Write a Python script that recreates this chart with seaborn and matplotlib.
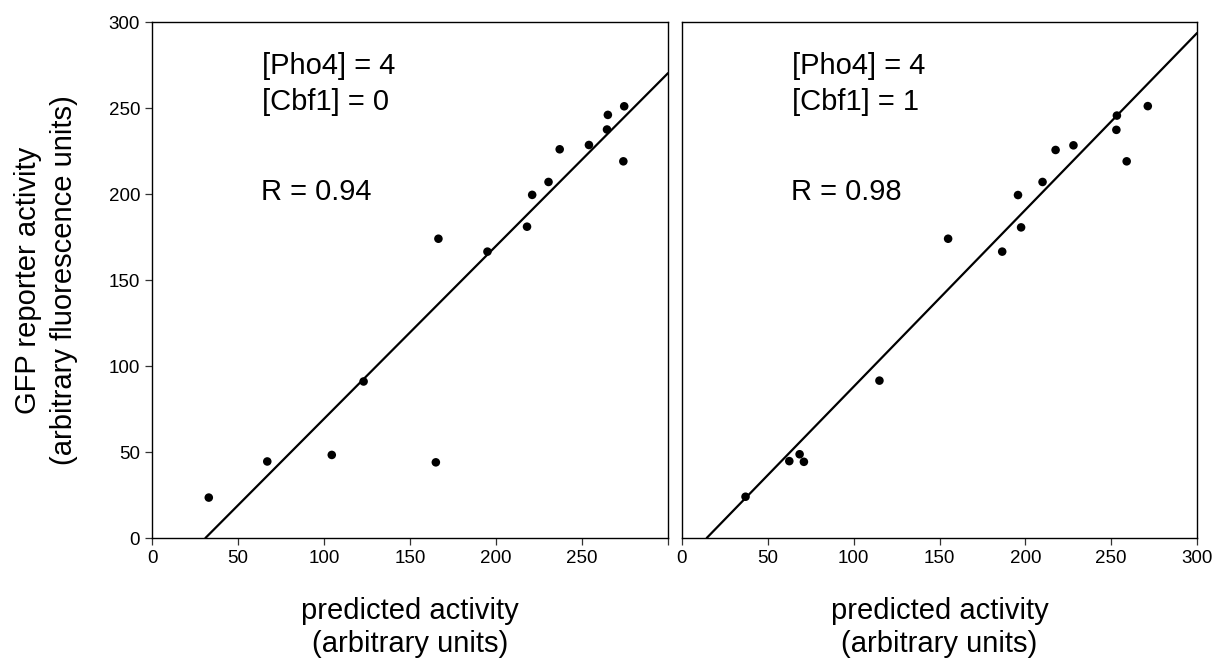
import numpy as np
import pandas as pd
import seaborn as sns
import matplotlib.pyplot as plt

# Fontsizes
LBF = 21   # axis labels / annotations
TS = 13.5  # ticks

# Left panel: [Pho4] = 4, [Cbf1] = 0
pred_cbf0 = [33, 67, 104.5, 123, 165, 166.5, 195, 218, 221, 230.5, 237, 254, 264.5, 265, 274.5, 274]
gfp_cbf0 = [23.5, 44.5, 48.3, 91, 44, 174, 166.5, 181, 199.5, 207, 226, 228.5, 237.5, 246, 251, 219]
fit_cbf0 = (1.005, -31.2)   # slope, intercept
r_cbf0 = 0.94

# Right panel: [Pho4] = 4, [Cbf1] = 1
pred_cbf1 = [37, 62.5, 68.5, 71, 115, 155, 186.5, 197.5, 195.7, 210, 217.6, 228, 253, 253.3, 271.3, 259]
gfp_cbf1 = [24, 44.7, 48.7, 44.3, 91.5, 174, 166.5, 180.6, 199.4, 207, 225.6, 228.3, 237.3, 245.6, 251.1, 219]
fit_cbf1 = (1.028, -14.8)
r_cbf1 = 0.98

xticks = [0, 50, 100, 150, 200, 250, 300]
yticks = [0, 50, 100, 150, 200, 250, 300]

sns.set_style('ticks')
plt.rcParams['font.family'] = ['Liberation Sans', 'DejaVu Sans']
plt.rcParams['text.color'] = 'black'
plt.rcParams['axes.labelcolor'] = 'black'
plt.rcParams['xtick.color'] = 'black'
plt.rcParams['ytick.color'] = 'black'

fig = plt.figure(figsize=(12.22, 6.71), dpi=100)
ax1 = fig.add_axes([0.1244, 0.1982, 0.4223, 0.769])
ax2 = fig.add_axes([0.5581, 0.1982, 0.4215, 0.769])

panels = [
    (ax1, pred_cbf0, gfp_cbf0, fit_cbf0, '[Pho4] = 4', '[Cbf1] = 0', r_cbf0),
    (ax2, pred_cbf1, gfp_cbf1, fit_cbf1, '[Pho4] = 4', '[Cbf1] = 1', r_cbf1),
]

for ax, xs, ys, fit, t1, t2, r in panels:
    df = pd.DataFrame({'pred': xs, 'gfp': ys})
    sns.scatterplot(data=df, x='pred', y='gfp', ax=ax, color='black', s=38,
                    edgecolor='none', zorder=3)
    slope, icpt = fit
    x0 = -icpt / slope
    line = pd.DataFrame({'x': [x0, 300]})
    line['y'] = slope * line['x'] + icpt
    sns.lineplot(data=line, x='x', y='y', ax=ax, color='black', lw=1.6)

    ax.set_xlim(0, 300)
    ax.set_ylim(0, 300)
    ax.set_xticks(xticks)
    ax.set_yticks(yticks)
    for s in ax.spines.values():
        s.set_visible(True)
        s.set_color('black')
        s.set_linewidth(1.0)
    ax.tick_params(which='both', labelsize=TS, length=5, width=0.9,
                   color='#333333', labelcolor='black')

    ax.text(64, 270, t1, fontsize=LBF, color='black')
    ax.text(64, 249, t2, fontsize=LBF, color='black')
    ax.text(63.5, 196.5, f'R = {r:.2f}', fontsize=LBF, color='black')
    ax.set_xlabel('predicted activity\n(arbitrary units)', fontsize=LBF,
                  labelpad=22, color='black')

ax1.set_xticklabels([str(t) for t in xticks[:-1]] + [''])
ax1.set_ylabel('GFP reporter activity\n(arbitrary fluorescence units)',
               fontsize=LBF, labelpad=22, linespacing=1.35, color='black')
ax2.set_ylabel('')
ax2.set_yticks([])

fig.savefig('out.png', dpi=100)
